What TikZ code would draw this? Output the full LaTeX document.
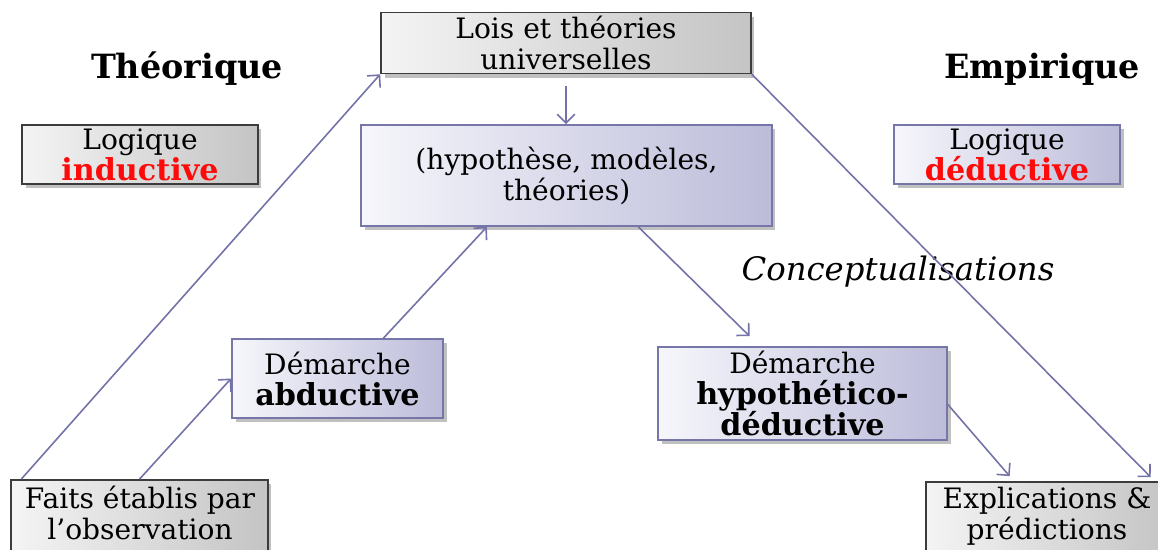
\documentclass[tikz,border=0pt]{standalone}
\usepackage{fontspec}
\setmainfont{DejaVu Serif}
\usetikzlibrary{arrows.meta,shadows,calc}

\definecolor{arrowc}{HTML}{7272A8}
\definecolor{grayedge}{HTML}{3C3C3C}
\definecolor{graylight}{HTML}{F4F4F4}
\definecolor{graydark}{HTML}{C4C4C4}
\definecolor{blueedge}{HTML}{7676A8}
\definecolor{bluelight}{HTML}{F6F6FB}
\definecolor{bluedark}{HTML}{BCBCDA}
\definecolor{logicred}{HTML}{FF0A0A}

% bold key words, set a little larger than the body text
\newcommand{\keyword}[1]{{\fontsize{17.2}{17.6}\selectfont\bfseries #1}}

\tikzset{
  bodyfont/.style={font=\fontsize{16}{17.6}\selectfont},
  box/.style={draw, line width=1pt, align=center, inner sep=2pt, bodyfont,
    drop shadow={shadow xshift=2pt, shadow yshift=-2.5pt, opacity=0.35, fill=black!70}},
  graybox/.style={box, draw=grayedge, left color=graylight, right color=graydark},
  bluebox/.style={box, draw=blueedge, left color=bluelight, right color=bluedark},
  boxtext/.style={align=center, bodyfont, inner sep=0pt},
  title/.style={font=\fontsize{19}{22}\selectfont\bfseries},
  conn/.style={draw=arrowc, line width=0.9pt, -{Straight Barb[length=5pt,width=10pt]}}
}

\begin{document}
\begin{tikzpicture}[x=0.02cm, y=-0.02cm]
\useasboundingbox[fill=white] (0,0) rectangle (1158,549);

% headings
\node[title] (theo) at (187,69) {Théorique};
\node[title] (emp) at (1042,69) {Empirique};
\node[font=\fontsize{18.4}{21}\selectfont\itshape] (concept) at (898,272) {Conceptualisations};

% boxes
\node[graybox, minimum width=7.4cm, minimum height=1.2cm] (lois) at (566,43)
  {Lois et théories\\universelles};
\node[graybox, minimum width=4.72cm, minimum height=1.18cm] (ind) at (140,154.5)
  {Logique\\\keyword{\color{logicred}inductive}};
\node[bluebox, minimum width=4.52cm, minimum height=1.18cm] (ded) at (1007,154.5)
  {Logique\\\keyword{\color{logicred}déductive}};
\node[bluebox, minimum width=8.22cm, minimum height=2.02cm] (mid) at (566.5,175.5)
  {(hypothèse, modèles,\\théories)};
\node[bluebox, minimum width=4.22cm, minimum height=1.58cm] (abd) at (337.5,378.5)
  {Démarche\\\keyword{abductive}};
\node[bluebox, minimum width=5.78cm, minimum height=1.86cm] (hyp) at (802.5,393.5)
  {Démarche\\\keyword{hypothético-}\\\keyword{déductive}};
\node[graybox, minimum width=5.14cm, minimum height=1.8cm] (faits) at (139.5,525) {};
\node[boxtext] (faitstxt) at (140,513) {Faits établis par\\l’observation};
\node[graybox, minimum width=4.88cm, minimum height=1.76cm] (expl) at (1048,526) {};
\node[boxtext] (expltxt) at (1047,516) {Explications \&\\prédictions};

% connector end points
\coordinate (faitsL) at ($(faits.north west)!0.043!(faits.north east)$);
\coordinate (abdout) at ($(abd.north west)!0.716!(abd.north east)$);
\coordinate (midin) at ($(mid.south west)!0.307!(mid.south east)$);
\coordinate (midout) at ($(mid.south west)!0.674!(mid.south east)$);
\coordinate (hypin) at ($(hyp.north west)!0.318!(hyp.north east)+(0,-10)$);
\coordinate (loisout) at ($(lois.south)+(0,12)$);
\coordinate (hypout) at ($(hyp.east)+(0,11)$);
\coordinate (explinA) at ($(expl.north west)!0.344!(expl.north east)+(0,-5)$);
\coordinate (explinB) at ($(expl.north west)!0.918!(expl.north east)+(0,-4)$);

% connectors
\draw[conn] (faitsL) -- (lois.south west);
\draw[conn] (faits.north) -- (abd.west);
\draw[conn] (abdout) -- (midin);
\draw[conn] (loisout) -- (loisout |- mid.north);
\draw[conn] (midout) -- (hypin);
\draw[conn] (hypout) -- (explinA);
\draw[conn] (lois.south east) -- (explinB);
\end{tikzpicture}
\end{document}
